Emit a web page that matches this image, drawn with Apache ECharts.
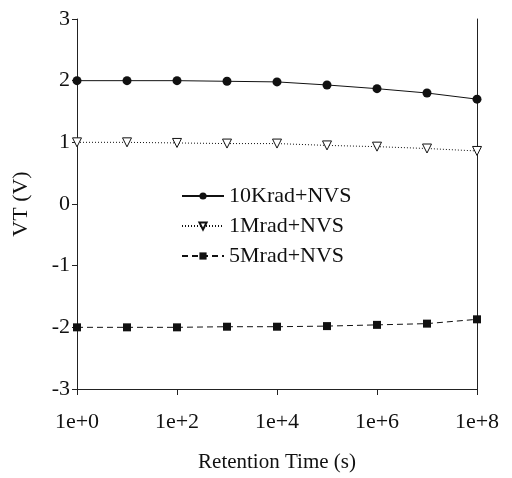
<!DOCTYPE html>
<html>
<head>
<meta charset="utf-8">
<script src="https://cdn.jsdelivr.net/npm/echarts@6/dist/echarts.min.js"></script>
<style>
  html, body { margin: 0; padding: 0; background: #fff; }
  #ec { width: 512px; height: 478px; }
</style>
</head>
<body>
<div id="ec"></div>
<script>
// retention time, as decade exponents (1e+0 .. 1e+8)
var timeExp = [0, 1, 2, 3, 4, 5, 6, 7, 8]
var vt10Krad = [2.00, 2.00, 2.00, 1.99, 1.98, 1.93, 1.87, 1.80, 1.70]
var vt1Mrad = [1.00, 1.00, 0.99, 0.98, 0.98, 0.95, 0.93, 0.90, 0.86]
var vt5Mrad = [-2.00, -2.00, -2.00, -1.99, -1.99, -1.98, -1.96, -1.94, -1.87]

function pairs(ys) {
  return timeExp.map(function (x, i) { return [x, ys[i]] })
}

var font = 'Liberation Serif'
var chart = echarts.init(document.getElementById('ec'))
chart.setOption({
  animation: false,
  textStyle: { fontFamily: font, color: '#111' },
  grid: { left: 77, right: 35, top: 19, bottom: 88 },
  legend: {
    left: 176,
    top: 180,
    orient: 'vertical',
    itemWidth: 42,
    itemHeight: 9,
    itemGap: 8,
    selectedMode: false,
    textStyle: { fontFamily: font, fontSize: 22, color: '#111' },
    data: ['10Krad+NVS', '1Mrad+NVS', '5Mrad+NVS']
  },
  xAxis: {
    type: 'value',
    min: 0,
    max: 8,
    interval: 2,
    name: 'Retention Time (s)',
    nameLocation: 'middle',
    nameGap: 63,
    nameTextStyle: { fontFamily: font, fontSize: 21, color: '#111' },
    axisLine: { onZero: false, lineStyle: { color: '#222', width: 1 } },
    axisTick: { length: 6, lineStyle: { color: '#222' } },
    axisLabel: {
      fontFamily: font, fontSize: 22, color: '#111', margin: 22,
      formatter: function (v) { return '1e+' + v }
    },
    splitLine: { show: false }
  },
  yAxis: [
    {
      type: 'value',
      min: -3,
      max: 3,
      interval: 1,
      name: 'VT (V)',
      nameLocation: 'middle',
      nameGap: 45,
      nameTextStyle: { fontFamily: font, fontSize: 22, color: '#111' },
      axisLine: { show: true, lineStyle: { color: '#222', width: 1 } },
      axisTick: { show: true, length: 5, lineStyle: { color: '#222' } },
      axisLabel: { fontFamily: font, fontSize: 22, color: '#111', margin: 7 },
      splitLine: { show: false }
    },
    {
      type: 'value',
      min: -3,
      max: 3,
      interval: 1,
      position: 'right',
      axisLine: { show: true, lineStyle: { color: '#222', width: 1 } },
      axisTick: { show: false },
      axisLabel: { show: false },
      splitLine: { show: false }
    }
  ],
  series: [
    {
      name: '10Krad+NVS',
      type: 'line',
      data: pairs(vt10Krad),
      symbol: 'circle',
      symbolSize: 9,
      itemStyle: { color: '#111' },
      lineStyle: { color: '#111', width: 1 }
    },
    {
      name: '1Mrad+NVS',
      type: 'line',
      data: pairs(vt1Mrad),
      symbol: 'triangle',
      symbolRotate: 180,
      symbolSize: 9,
      itemStyle: { color: '#fff', borderColor: '#111', borderWidth: 1 },
      lineStyle: { color: '#111', width: 1, type: [1, 2] }
    },
    {
      name: '5Mrad+NVS',
      type: 'line',
      data: pairs(vt5Mrad),
      symbol: 'rect',
      symbolSize: 8,
      itemStyle: { color: '#111' },
      lineStyle: { color: '#111', width: 1, type: [6, 4] }
    }
  ]
})
</script>
</body>
</html>
